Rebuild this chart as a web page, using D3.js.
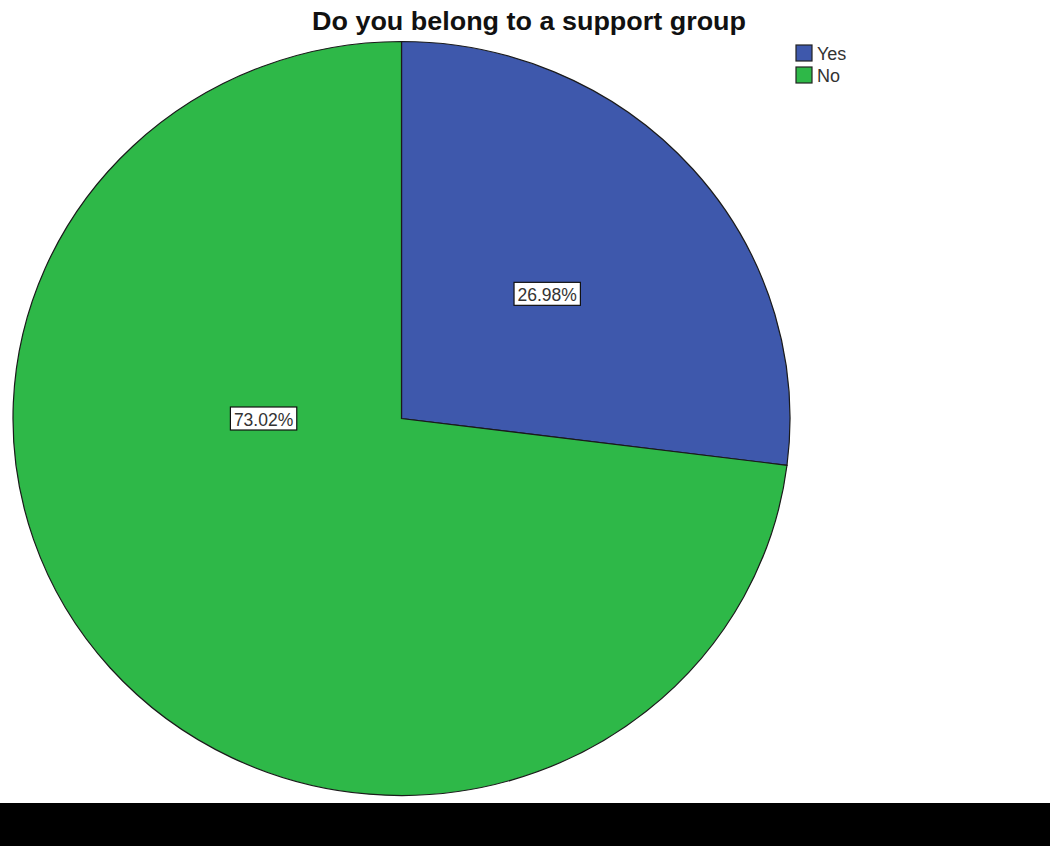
<!DOCTYPE html>
<html>
<head>
<meta charset="utf-8">
<script src="https://cdn.jsdelivr.net/npm/d3@7"></script>
<style>
  body { margin: 0; background: #fff; }
  svg { display: block; font-family: "Liberation Sans", Arial, sans-serif; }
</style>
</head>
<body>
<svg id="mainsvg" width="1050" height="846"></svg>
<script>
// data
const categories = ['Yes', 'No']
const percents = [26.98, 73.02]
const colors = ['#3e58ac', '#2eb848']
// where the label sits: angle in degrees clockwise from 12 o'clock, and fraction of radius
const labelAngles = [48.6, 270]
const labelFractions = [0.5, 0.355]

const svg = d3.select('#mainsvg')
const width = +svg.attr('width')
const height = +svg.attr('height')

const cx = 401.5, cy = 418.5
const rx = 388.5, ry = 377

// bottom black band
svg.append('rect')
  .attr('x', 0).attr('y', 803)
  .attr('width', width).attr('height', height - 803)
  .attr('fill', '#000')

// title
svg.append('text')
  .attr('x', 529).attr('y', 30)
  .attr('text-anchor', 'middle')
  .attr('font-size', 25)
  .attr('font-weight', 'bold')
  .attr('fill', '#111')
  .attr('textLength', 434)
  .attr('lengthAdjust', 'spacingAndGlyphs')
  .text('Do you belong to a support group')

const data = categories.map((c, i) => ({ name: c, value: percents[i], color: colors[i] }))
const pie = d3.pie().value(d => d.value).sort(null)
const arcs = pie(data)
const arc = d3.arc().innerRadius(0).outerRadius(ry)

// pie drawn as a circle then stretched a little horizontally, like the source
const g = svg.append('g')
  .attr('transform', `translate(${cx},${cy}) scale(${rx / ry},1)`)

g.selectAll('path')
  .data(arcs)
  .join('path')
  .attr('d', arc)
  .attr('fill', d => d.data.color)
  .attr('stroke', '#1a1a1a')
  .attr('stroke-width', 1.2)
  .attr('vector-effect', 'non-scaling-stroke')

// value labels with white boxes
const lg = svg.append('g')
arcs.forEach((d, i) => {
  const a = labelAngles[i] * Math.PI / 180
  const f = labelFractions[i]
  const x = cx + f * rx * Math.sin(a)
  const y = cy - f * ry * Math.cos(a)
  const t = lg.append('text')
    .attr('x', x).attr('y', y + 1)
    .attr('text-anchor', 'middle')
    .attr('dominant-baseline', 'central')
    .attr('font-size', 17.5)
    .attr('fill', '#333')
    .text(d3.format('.2f')(d.data.value) + '%')
  const bb = t.node().getBBox()
  lg.insert('rect', 'text')
    .attr('x', bb.x - 3.5).attr('y', y - 11.5)
    .attr('width', bb.width + 7).attr('height', 23)
    .attr('fill', '#fff')
    .attr('stroke', '#111')
    .attr('stroke-width', 1.2)
})

// legend
const legend = svg.append('g').attr('transform', 'translate(796,45)')
const item = legend.selectAll('g')
  .data(data)
  .join('g')
  .attr('transform', (d, i) => `translate(0,${i * 22})`)
item.append('rect')
  .attr('width', 16).attr('height', 16)
  .attr('fill', d => d.color)
  .attr('stroke', '#222')
  .attr('stroke-width', 1.2)
item.append('text')
  .attr('x', 21).attr('y', 9)
  .attr('dominant-baseline', 'central')
  .attr('font-size', 18)
  .attr('fill', '#333')
  .text(d => d.name)
</script>
</body>
</html>
